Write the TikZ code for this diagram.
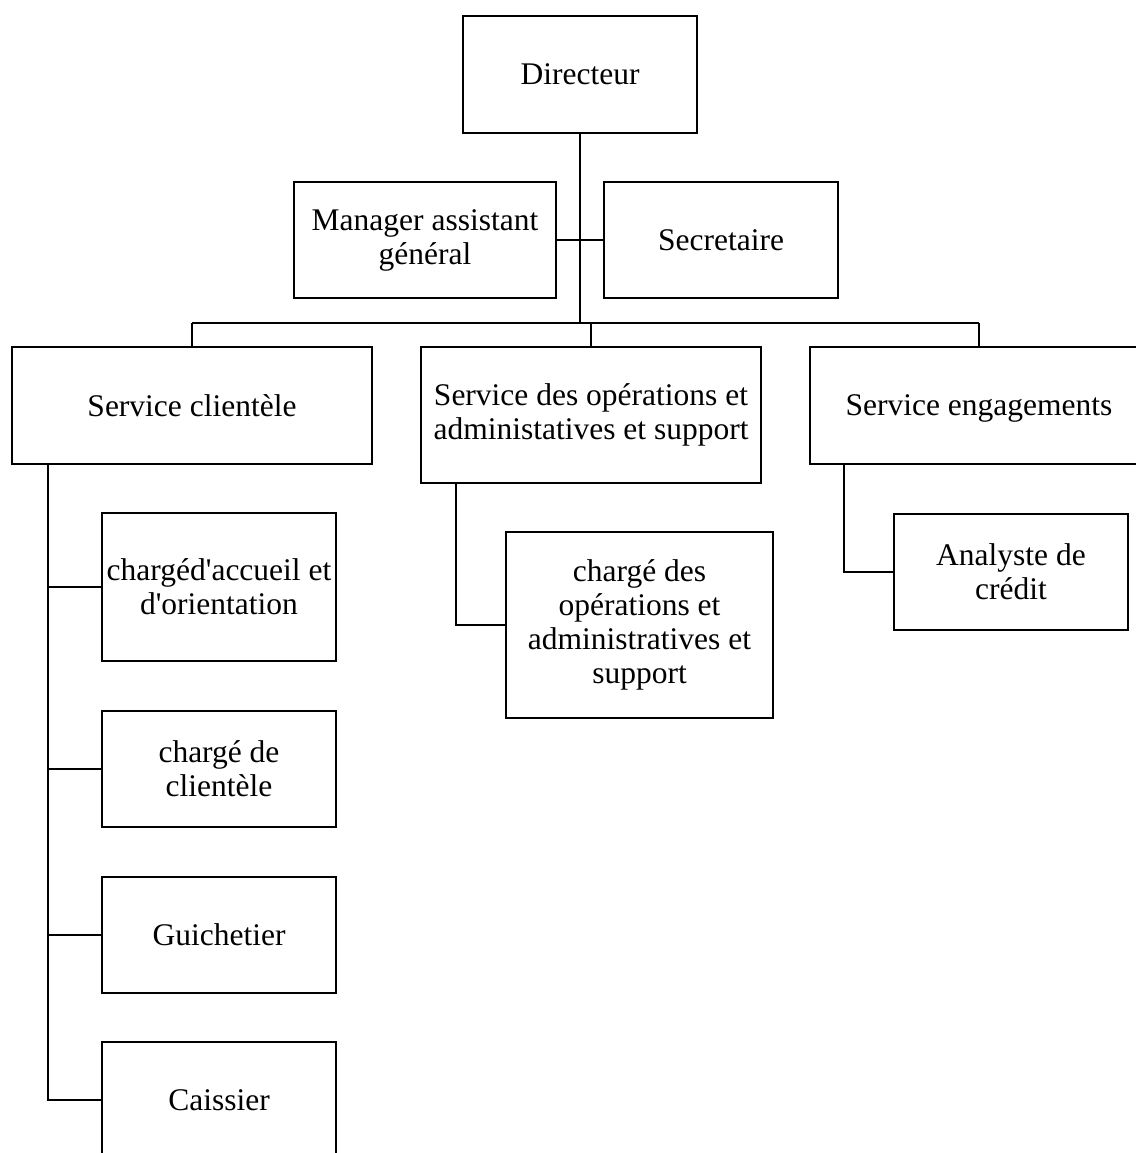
\documentclass[tikz,border=0pt]{standalone}
\usepackage{fontspec}
\setmainfont{Liberation Serif}[Ligatures=TeXOff]
\begin{document}
\begin{tikzpicture}[x=1pt,y=-1pt,
  box/.style={draw=black, line width=2.4pt, rectangle, inner sep=0pt, align=center,
    font=\fontsize{31.5}{34}\selectfont},
  link/.style={draw=black, line width=2.4pt, line join=miter}]
\useasboundingbox (0,0) rectangle (1135,1153);
\node[box, minimum width=234, minimum height=117] (dir) at (580,74.5) {Directeur};
\node[box, minimum width=262, minimum height=116] (mgr) at (425,240) {Manager assistant\\général};
\node[box, minimum width=234, minimum height=116] (sec) at (721,240) {Secretaire};
\node[box, minimum width=360, minimum height=117] (sc) at (192,405.5) {Service clientèle};
\node[box, minimum width=340, minimum height=136] (ops) at (591,415) {Service des opérations et\\administatives et support};
\node[box, minimum width=338, minimum height=117, text depth=0pt] (eng) at (979,405.5) {Service engagements};
\node[box, minimum width=234, minimum height=148] (acc) at (219,587) {chargéd'accueil et\\d'orientation};
\node[box, minimum width=234, minimum height=116] (cli) at (219,769) {chargé de\\clientèle};
\node[box, minimum width=234, minimum height=116] (gui) at (219,935) {Guichetier};
\node[box, minimum width=234, minimum height=116] (cai) at (219,1100) {Caissier};
\node[box, minimum width=267, minimum height=186] (cops) at (639.5,625) {chargé des\\opérations et\\administratives et\\support};
\node[box, minimum width=234, minimum height=116] (ana) at (1011,572) {Analyste de\\crédit};
\coordinate (bar) at (0,323);
\coordinate (scl) at (48,0);
\coordinate (opl) at (456,0);
\coordinate (enl) at (844,0);
\draw[link] (dir.south) -- (dir.south |- bar);
\draw[link] (mgr.east) -- (sec.west);
\draw[link] (sc.north |- bar) -- (eng.north |- bar);
\draw[link] (sc.north) -- (sc.north |- bar);
\draw[link] (ops.north) -- (ops.north |- bar);
\draw[link] (eng.north) -- (eng.north |- bar);
\draw[link] (scl |- sc.south) -- (scl |- cai.west) -- (cai.west);
\draw[link] (scl |- acc.west) -- (acc.west);
\draw[link] (scl |- cli.west) -- (cli.west);
\draw[link] (scl |- gui.west) -- (gui.west);
\draw[link] (opl |- ops.south) -- (opl |- cops.west) -- (cops.west);
\draw[link] (enl |- eng.south) -- (enl |- ana.west) -- (ana.west);
\end{tikzpicture}
\end{document}
